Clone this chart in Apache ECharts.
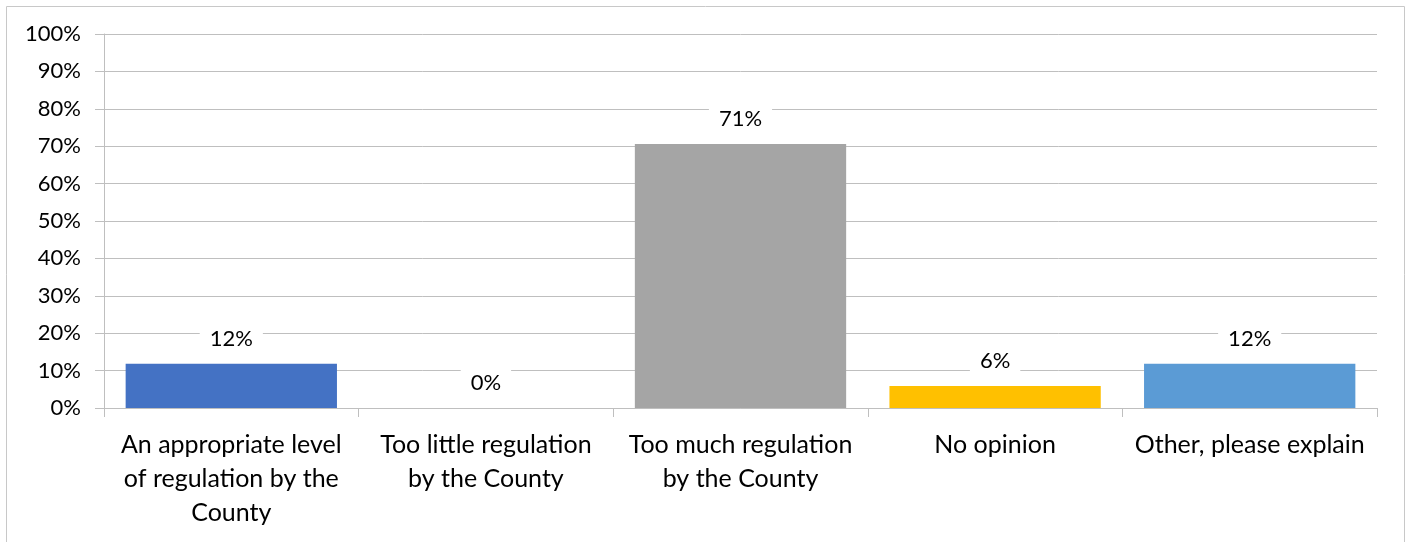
<!DOCTYPE html>
<html>
<head>
<meta charset="utf-8">
<script src="https://cdn.jsdelivr.net/npm/echarts@6/dist/echarts.min.js"></script>
<style>
  html, body { margin: 0; padding: 0; background: #fff; }
  #chart { width: 1408px; height: 542px; }
</style>
</head>
<body>
<div id="chart"></div>
<script>
const categories = [
  "An appropriate level\nof regulation by the\nCounty",
  "Too little regulation\nby the County",
  "Too much regulation\nby the County",
  "No opinion",
  "Other, please explain",
];
const shares = [11.8, 0, 70.6, 5.9, 11.8];
const barColors = ["#4472c4", "#ed7d31", "#a5a5a5", "#ffc000", "#5b9bd5"];
const yTicks = [0, 10, 20, 30, 40, 50, 60, 70, 80, 90, 100];

const fontFamily = "Lato, 'Noto Sans', sans-serif";
const chart = echarts.init(document.getElementById("chart"));

chart.setOption({
  animation: false,
  textStyle: { fontFamily: fontFamily },
  graphic: [
    {
      type: "rect",
      shape: { x: 6.5, y: 6.5, width: 1398, height: 560 },
      style: { fill: "none", stroke: "#c8c8c8", lineWidth: 1 },
      silent: true,
    },
  ],
  grid: { left: 104, right: 31, top: 34, bottom: 134 },
  xAxis: {
    type: "category",
    data: categories,
    axisLine: { lineStyle: { color: "#bfbfbf", width: 1 } },
    axisTick: { show: true, length: 9, lineStyle: { color: "#bfbfbf" } },
    axisLabel: {
      color: "#000",
      fontSize: 25,
      lineHeight: 34,
      margin: 20,
      interval: 0,
      fontFamily: fontFamily,
    },
  },
  yAxis: {
    type: "value",
    min: yTicks[0],
    max: yTicks[yTicks.length - 1],
    interval: 10,
    axisLine: { show: true, lineStyle: { color: "#bfbfbf", width: 1 } },
    axisTick: { show: true, length: 9, lineStyle: { color: "#bfbfbf" } },
    splitLine: { lineStyle: { color: "#bfbfbf", width: 1 } },
    axisLabel: {
      color: "#000",
      fontSize: 22,
      margin: 23,
      formatter: (v) => v + "%",
      fontFamily: fontFamily,
    },
  },
  series: [
    {
      type: "bar",
      data: shares.map((v, i) => ({ value: v, itemStyle: { color: barColors[i] } })),
      barCategoryGap: "17%",
      label: {
        show: true,
        position: "top",
        distance: 12,
        color: "#000",
        fontSize: 22,
        backgroundColor: "#fff",
        padding: [2, 10],
        formatter: (p) => Math.round(p.value) + "%",
        fontFamily: fontFamily,
      },
    },
  ],
});
</script>
</body>
</html>
